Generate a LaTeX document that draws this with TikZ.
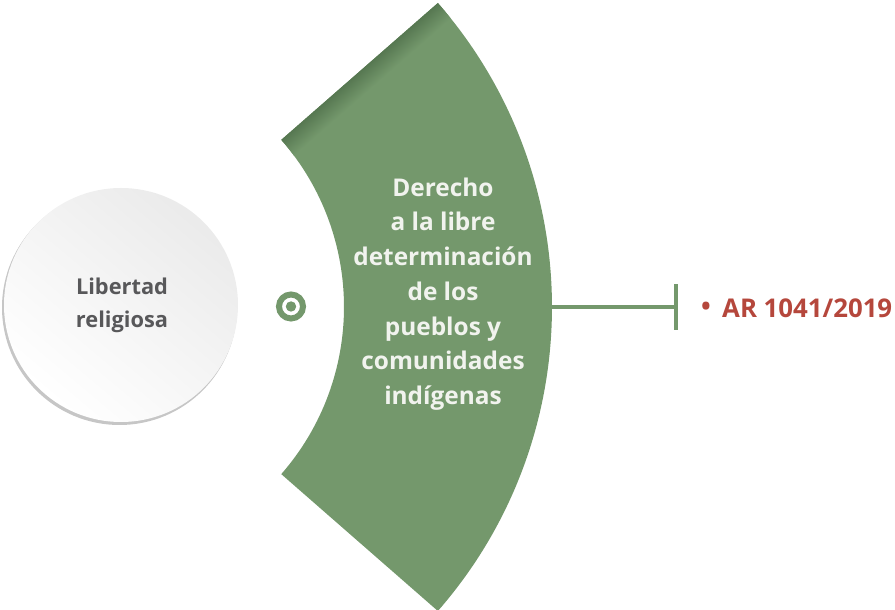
\documentclass[tikz,border=0pt]{standalone}
\usepackage{fontspec}
\setmainfont{Open Sans}
\begin{document}
\begin{tikzpicture}[x=1pt,y=1pt,
  base/.style={fill=sgreen},
  maintext/.style={font=\bfseries\fontsize{24.4}{34.7}\selectfont, text=stext, align=center, inner sep=0},
  lefttext/.style={font=\bfseries\fontsize{21.8}{33}\selectfont, text=ltext, align=center, inner sep=0},
  reftext/.style={font=\bfseries\fontsize{25.8}{28}\selectfont, text=rtext, inner sep=0},
  conn/.style={draw=sgreen, line width=4}]
\definecolor{sgreen}{HTML}{74986C}
\definecolor{sdark}{HTML}{557650}
\definecolor{stext}{HTML}{F1F3EE}
\definecolor{ltext}{HTML}{58585A}
\definecolor{rtext}{HTML}{B5473C}
\useasboundingbox (0,0) rectangle (895,610);
% left circle
\fill[gray!45] (119.5,302.5) circle (117.5);
\shade[top color=gray!16, bottom color=white, shading angle=-40] (121,305) circle (117);
\node[lefttext] (lib) at (122,305) {Libertad\\religiosa};
% small target icon
\coordinate (icon) at (291,303.5);
\draw[sgreen, line width=6] (icon) circle (12);
\fill[sgreen] (icon) circle (5.2);
% green sector
\coordinate (C) at (90,303);
\path[base] ([shift={(-41.15:462)}]C) arc (-41.15:41.15:462) -- ([shift={(41.15:254)}]C) arc (41.15:-41.15:254) -- cycle;
\begin{scope}
\clip ([shift={(-41.15:462)}]C) arc (-41.15:41.15:462) -- ([shift={(41.15:254)}]C) arc (41.15:-41.15:254) -- cycle;
\begin{scope}[transform canvas={rotate around={41.15:(C)}}]
\shade[top color=sdark, bottom color=sgreen] (300,283) rectangle (560,304);
\end{scope}
\end{scope}
\node[maintext] (sector) at (443,316) {Derecho\\a la libre\\determinación\\de los\\pueblos y\\comunidades\\indígenas};
% connector
\coordinate (sright) at (552,303);
\coordinate (bar) at (675.5,303);
\draw[conn] (sright) -- (bar);
\draw[conn] ([yshift=-23]bar) -- ([yshift=23]bar);
\node[reftext, anchor=center] (bullet) at (706,301) {•};
\node[reftext, anchor=base west] (ar) at (722,292) {AR 1041/2019};
\end{tikzpicture}
\end{document}
